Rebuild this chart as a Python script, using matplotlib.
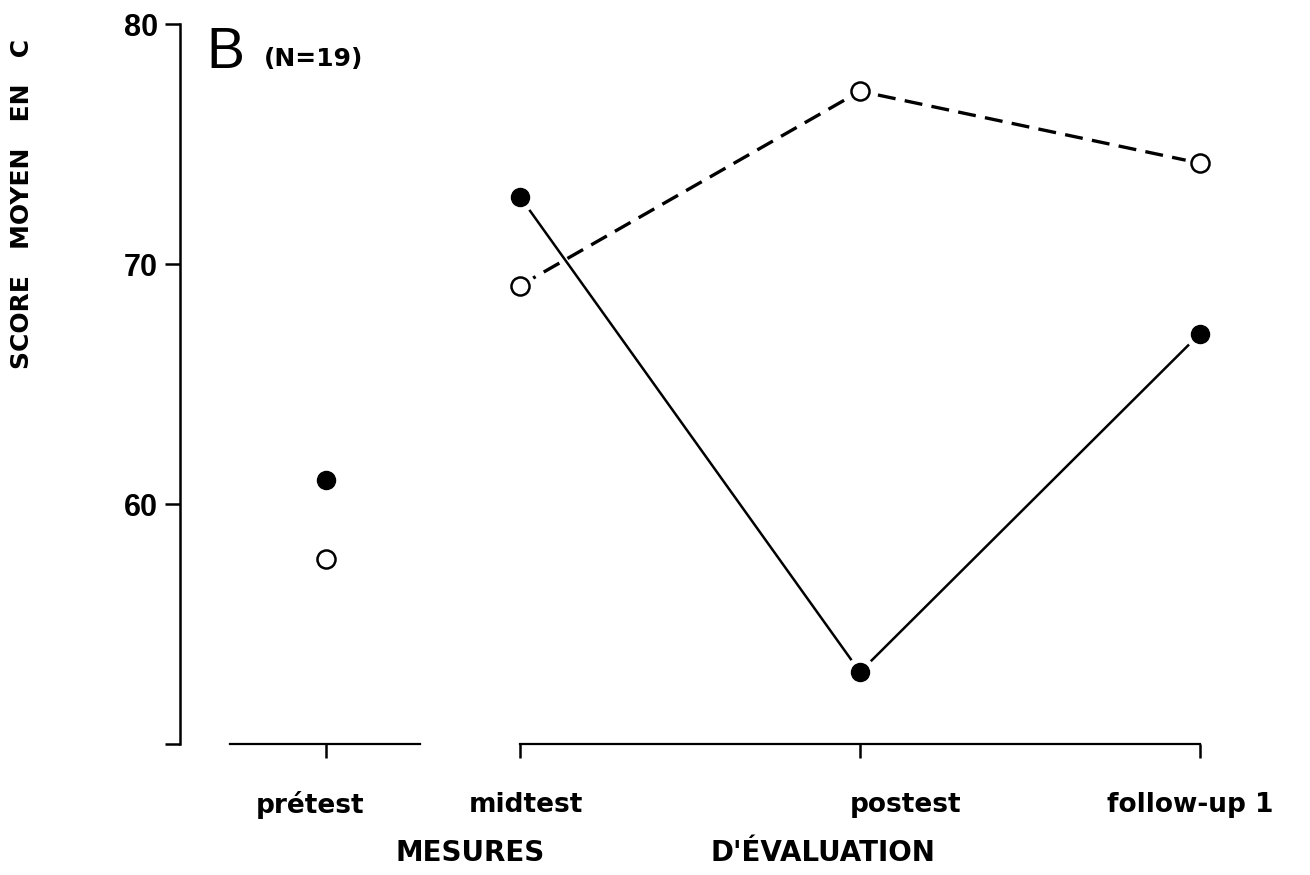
import matplotlib.pyplot as plt
import matplotlib.transforms as mtransforms

# --- data ---
stages = ["prétest", "midtest", "postest", "follow-up 1"]
stage_x = [0.43, 1, 2, 3]
score_filled = [61.0, 72.8, 53.0, 67.1]
score_open = [57.7, 69.1, 77.2, 74.2]
y_ticks = [50, 60, 70, 80]
y_ticklabels = ["", "60", "70", "80"]

# label anchors (the original labels are not centred on every tick)
label_x = [0.382, 1.018, 2.135, 2.97]

BOLD = {"family": "DejaVu Sans", "weight": "bold"}

fig = plt.figure(figsize=(13.1, 8.75), dpi=100)
ax = fig.add_axes([180 / 1310, 131 / 875, 1037 / 1310, 720 / 875])

# lines (pretest is not connected)
ax.plot(stage_x[1:], score_filled[1:], color="black", linewidth=1.8,
        solid_capstyle="butt", zorder=2)
ax.plot(stage_x[1:], score_open[1:], color="black", linewidth=2.4,
        linestyle=(0, (5.4, 2.8)), zorder=2)

# white halo so the lines stop short of the points
for series in (score_filled, score_open):
    ax.plot(stage_x, series, linestyle="none", marker="o", markersize=22,
            markerfacecolor="white", markeredgecolor="none", zorder=3)

ax.plot(stage_x, score_filled, linestyle="none", marker="o", markersize=13,
        markerfacecolor="black", markeredgecolor="black", zorder=4)
ax.plot(stage_x, score_open, linestyle="none", marker="o", markersize=13,
        markerfacecolor="white", markeredgecolor="black",
        markeredgewidth=1.8, zorder=4)

ax.set_xlim(0, 3.05)
ax.set_ylim(50, 80)

# axes look: open L with broken x axis
ax.spines[["top", "right"]].set_visible(False)
ax.spines["left"].set_linewidth(1.8)
ax.spines["left"].set_bounds(50, 80)
ax.spines["bottom"].set_linewidth(1.6)
ax.spines["bottom"].set_bounds(stage_x[1], stage_x[3])

# separate short segment under the pretest
trans = mtransforms.blended_transform_factory(ax.transData, ax.transAxes)
ax.plot([0.147, 0.706], [0, 0], color="black", linewidth=1.6,
        transform=trans, clip_on=False)

ax.set_yticks(y_ticks)
ax.set_yticklabels(y_ticklabels, fontfamily="Liberation Sans",
                   fontweight="bold", fontsize=22)
ax.tick_params(axis="y", direction="out", length=11, width=1.8, pad=5)

ax.set_xticks(stage_x)
ax.set_xticklabels([])
ax.tick_params(axis="x", direction="out", length=10, width=1.8)

for x, name in zip(label_x, stages):
    ax.text(x, -0.085, name, transform=trans, ha="center", va="center",
            fontsize=19, **BOLD)

# axis titles
fig.text(470 / 1310, 1 - 853 / 875, "MESURES", ha="center", va="center",
         fontsize=20, **BOLD)
fig.text(823 / 1310, 1 - 853 / 875, "D'ÉVALUATION", ha="center", va="center",
         fontsize=20, **BOLD)
fig.text(22 / 1310, 1 - 369 / 875, "SCORE   MOYEN   EN   C", rotation=90,
         ha="center", va="bottom", fontsize=18, **BOLD)

# panel tag
fig.text(206 / 1310, 1 - 68 / 875, "B", ha="left", va="baseline",
         fontsize=41, family="Liberation Sans")
fig.text(264 / 1310, 1 - 66 / 875, "(N=19)", ha="left", va="baseline",
         fontsize=18, **BOLD)

fig.savefig("out.png", dpi=100, facecolor="white")
